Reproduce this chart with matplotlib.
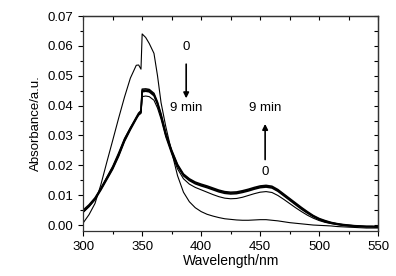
import numpy as np
import matplotlib
matplotlib.use('Agg')
import matplotlib.pyplot as plt
from matplotlib.ticker import MultipleLocator, FormatStrFormatter

plt.rcParams['font.family'] = ['Liberation Sans', 'DejaVu Sans']

# wavelength grid (nm); 349 -> 350 is the lamp-change step seen in the spectra
wl = [300, 305, 310, 315, 320, 325, 330, 335, 340, 345, 347, 349,
      350, 353, 356, 360, 363, 366,
      370, 375, 380, 385, 390, 395, 400, 405, 410, 415, 420, 425, 430, 435,
      440, 445, 450, 455, 460, 465, 470, 475, 480, 485, 490, 495, 500, 505,
      510, 515, 520, 525, 530, 535, 540, 545, 550]

# 0 min spectrum
abs_0 = [0.0007, 0.0035, 0.0072, 0.0135, 0.0210, 0.0283, 0.0357, 0.0428, 0.0492, 0.0535, 0.0536, 0.0522,
         0.0640, 0.0628, 0.0608, 0.0575, 0.0500, 0.0410,
         0.0330, 0.0245, 0.0165, 0.0110, 0.0078, 0.0058, 0.0045, 0.0036, 0.0030, 0.0025, 0.0021, 0.0019, 0.0017, 0.0016,
         0.0016, 0.0017, 0.0018, 0.0018, 0.0016, 0.0014, 0.0011, 0.0008, 0.0006, 0.0004, 0.0002, 0.0000, -0.0001, -0.0002,
         -0.0003, -0.0005, -0.0006, -0.0007, -0.0008, -0.0009, -0.0010, -0.0010, -0.0010]

# first spectrum after irradiation (thin, just below the bundle)
abs_1 = [0.0042, 0.0062, 0.0086, 0.0123, 0.0160, 0.0197, 0.0242, 0.0290, 0.0326, 0.0358, 0.0368, 0.0374,
         0.0430, 0.0432, 0.0430, 0.0418, 0.0392, 0.0355,
         0.0295, 0.0238, 0.0188, 0.0155, 0.0137, 0.0126, 0.0118, 0.0110, 0.0102, 0.0095, 0.0090, 0.0088, 0.0089, 0.0093,
         0.0099, 0.0105, 0.0110, 0.0112, 0.0109, 0.0099, 0.0086, 0.0072, 0.0058, 0.0045, 0.0033, 0.0023, 0.0015, 0.0009,
         0.0005, 0.0002, -0.0001, -0.0003, -0.0004, -0.0005, -0.0006, -0.0006, -0.0007]

# later spectra (overlapping bundle up to 9 min)
abs_2 = [0.0044, 0.0062, 0.0085, 0.0117, 0.0152, 0.0187, 0.0230, 0.0280, 0.0319, 0.0355, 0.0369, 0.0377,
         0.0446, 0.0448, 0.0446, 0.0433, 0.0404, 0.0364,
         0.0302, 0.0245, 0.0197, 0.0165, 0.0149, 0.0138, 0.0131, 0.0125, 0.0118, 0.0111, 0.0106, 0.0104, 0.0105, 0.0109,
         0.0114, 0.0120, 0.0125, 0.0127, 0.0124, 0.0113, 0.0098, 0.0083, 0.0068, 0.0053, 0.0040, 0.0028, 0.0018, 0.0011,
         0.0006, 0.0002, -0.0001, -0.0003, -0.0004, -0.0005, -0.0006, -0.0006, -0.0007]
abs_3 = [0.0047, 0.0065, 0.0088, 0.0120, 0.0155, 0.0190, 0.0233, 0.0283, 0.0322, 0.0358, 0.0372, 0.0380,
         0.0450, 0.0452, 0.0450, 0.0437, 0.0408, 0.0368,
         0.0305, 0.0248, 0.0200, 0.0168, 0.0152, 0.0141, 0.0134, 0.0128, 0.0121, 0.0114, 0.0109, 0.0107, 0.0108, 0.0112,
         0.0117, 0.0123, 0.0128, 0.0130, 0.0127, 0.0116, 0.0101, 0.0086, 0.0071, 0.0056, 0.0042, 0.0030, 0.0020, 0.0013,
         0.0008, 0.0004, 0.0001, -0.0001, -0.0003, -0.0004, -0.0005, -0.0005, -0.0006]
abs_4 = [0.0050, 0.0068, 0.0091, 0.0123, 0.0158, 0.0193, 0.0236, 0.0286, 0.0325, 0.0361, 0.0375, 0.0383,
         0.0455, 0.0456, 0.0454, 0.0441, 0.0412, 0.0372,
         0.0308, 0.0251, 0.0203, 0.0171, 0.0155, 0.0144, 0.0137, 0.0131, 0.0124, 0.0117, 0.0112, 0.0110, 0.0111, 0.0115,
         0.0120, 0.0126, 0.0131, 0.0133, 0.0130, 0.0119, 0.0104, 0.0089, 0.0074, 0.0059, 0.0045, 0.0032, 0.0022, 0.0015,
         0.0009, 0.0005, 0.0002, 0.0000, -0.0002, -0.0003, -0.0004, -0.0004, -0.0005]

fig = plt.figure(figsize=(3.96, 2.76), dpi=100)
ax = fig.add_axes([0.21, 0.163, 0.745, 0.779])

ax.plot(wl, abs_0, color='black', lw=0.8)
ax.plot(wl, abs_1, color='black', lw=0.8)
for s in (abs_2, abs_3, abs_4):
    ax.plot(wl, s, color='black', lw=1.1)

ax.set_xlim(300, 550)
ax.set_ylim(-0.002, 0.07)
ax.xaxis.set_major_locator(MultipleLocator(50))
ax.xaxis.set_minor_locator(MultipleLocator(25))
ax.yaxis.set_major_locator(MultipleLocator(0.01))
ax.yaxis.set_minor_locator(MultipleLocator(0.005))
ax.yaxis.set_major_formatter(FormatStrFormatter('%.2f'))
ax.tick_params(which='both', direction='out', labelsize=9.5, width=0.8)
ax.tick_params(which='major', length=3.5)
ax.tick_params(which='minor', length=2)

# top / right: inward ticks, no labels
top = ax.secondary_xaxis('top')
top.xaxis.set_major_locator(MultipleLocator(25))
top.tick_params(direction='in', length=3, width=0.8, labeltop=False)
right = ax.secondary_yaxis('right')
right.yaxis.set_major_locator(MultipleLocator(0.005))
right.tick_params(direction='in', length=3, width=0.8, labelright=False)
for sp in list(ax.spines.values()) + [top.spines['top'], right.spines['right']]:
    sp.set_linewidth(0.9)
    sp.set_color('#333333')

ax.set_xlabel('Wavelength/nm', fontsize=10, labelpad=1)
ax.set_ylabel('Absorbance/a.u.', fontsize=9.5, labelpad=4)

# time arrows
ax.text(387.3, 0.0596, '0', ha='center', va='center', fontsize=9.5)
ax.annotate('', xy=(387.3, 0.0415), xytext=(387.3, 0.0548),
            arrowprops=dict(arrowstyle='-|>', color='black', lw=1.2, mutation_scale=8))
ax.text(387.3, 0.0392, '9 min', ha='center', va='center', fontsize=9.5)

ax.text(454.2, 0.0392, '9 min', ha='center', va='center', fontsize=9.5)
ax.annotate('', xy=(454.2, 0.0348), xytext=(454.2, 0.0210),
            arrowprops=dict(arrowstyle='-|>', color='black', lw=1.2, mutation_scale=8))
ax.text(454.2, 0.0177, '0', ha='center', va='center', fontsize=9.5)

fig.savefig('out.png', dpi=100)
